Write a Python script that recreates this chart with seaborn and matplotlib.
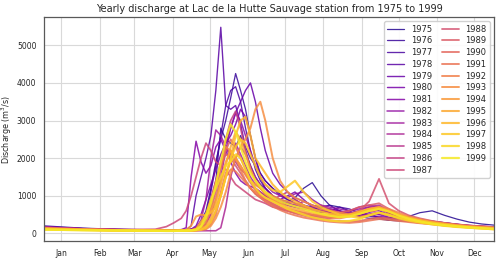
import numpy as np
import pandas as pd
import matplotlib
matplotlib.use('Agg')
import matplotlib.pyplot as plt
import seaborn as sns

days = [1, 32, 60, 91, 100, 106, 112, 116, 120, 124, 128, 132, 136, 140, 144, 148,
        152, 156, 160, 164, 168, 172, 176, 180, 186, 192, 198, 204, 211, 218, 225, 232,
        240, 248, 256, 264, 272, 280, 288, 296, 305, 315, 325, 335, 345, 355, 365]

q1975 = [200, 140, 110, 95, 90, 90, 95, 100, 110, 130, 200, 350, 700, 1400, 2800, 2500,
         2400, 2300, 2600, 2200, 1800, 1500, 1300, 1200, 1000, 900, 850, 950, 1200, 1350, 1000, 750,
         700, 600, 450, 400, 380, 350, 400, 450, 550, 600, 480, 380, 300, 250, 220]
q1976 = [170, 130, 105, 90, 85, 85, 90, 95, 110, 150, 300, 600, 1200, 1900, 2500, 3000,
         3600, 4250, 3800, 3300, 2600, 2000, 1600, 1400, 1200, 1050, 900, 800, 700, 650, 700, 750,
         600, 500, 550, 500, 420, 350, 330, 320, 330, 300, 260, 230, 200, 180, 160]
q1977 = [160, 120, 100, 85, 80, 80, 85, 90, 100, 130, 250, 500, 1100, 1800, 2600, 3400,
         3800, 3900, 3500, 2800, 2200, 1700, 1400, 1200, 1000, 850, 750, 700, 650, 600, 550, 600,
         700, 650, 550, 450, 420, 400, 380, 360, 350, 320, 280, 240, 200, 180, 160]
q1978 = [150, 115, 95, 85, 80, 80, 85, 100, 200, 1000, 1500, 2000, 2600, 3800, 5480, 3400,
         3300, 3400, 2900, 2300, 2000, 1800, 1600, 1400, 1200, 1000, 900, 800, 750, 700, 650, 600,
         550, 500, 480, 500, 520, 480, 420, 380, 340, 300, 260, 220, 190, 170, 150]
q1979 = [170, 125, 100, 85, 80, 80, 85, 90, 100, 120, 200, 400, 800, 1300, 1800, 2400,
         2800, 3200, 3500, 3800, 4000, 3500, 2800, 2200, 1600, 1300, 1100, 950, 850, 750, 700, 650,
         600, 550, 500, 480, 450, 420, 400, 380, 360, 320, 280, 240, 210, 190, 170]
q1980 = [160, 120, 100, 85, 80, 80, 85, 90, 110, 200, 500, 900, 1300, 1700, 2100, 2400,
         2600, 2900, 3300, 3100, 2600, 2000, 1500, 1200, 1000, 900, 1000, 1100, 900, 700, 600, 650,
         600, 500, 550, 650, 600, 500, 420, 380, 350, 310, 270, 230, 200, 180, 160]
q1981 = [180, 130, 105, 90, 85, 90, 100, 150, 1500, 2450, 1900, 1600, 1800, 2300, 2500, 2200,
         1900, 1600, 1400, 1300, 1250, 1200, 1100, 1000, 900, 850, 800, 900, 750, 650, 600, 550,
         500, 480, 500, 550, 500, 430, 380, 350, 320, 280, 250, 220, 200, 180, 160]
q1982 = [150, 115, 95, 85, 80, 80, 80, 85, 90, 100, 130, 250, 500, 900, 1500, 2200,
         2800, 3200, 3000, 2600, 2200, 1800, 1500, 1300, 1100, 1000, 950, 1050, 1100, 900, 750, 700,
         650, 600, 650, 700, 650, 550, 450, 400, 360, 320, 280, 240, 210, 190, 170]
q1983 = [160, 120, 100, 85, 80, 80, 85, 90, 100, 150, 350, 900, 2000, 2750, 2600, 2300,
         2000, 2400, 2100, 1800, 1500, 1300, 1200, 1100, 950, 850, 800, 750, 700, 650, 600, 600,
         550, 600, 700, 750, 700, 550, 450, 380, 330, 290, 250, 220, 190, 170, 150]
q1984 = [150, 115, 95, 85, 80, 80, 80, 75, 75, 72, 70, 70, 70, 70, 150, 700,
         1500, 2000, 2300, 2100, 1800, 1500, 1300, 1100, 950, 850, 800, 750, 850, 750, 650, 550,
         500, 550, 600, 700, 750, 600, 480, 400, 350, 300, 260, 230, 200, 180, 160]
q1985 = [160, 120, 100, 85, 80, 80, 85, 90, 100, 130, 250, 500, 900, 1400, 1900, 2300,
         2100, 1900, 1700, 1600, 1400, 1200, 1100, 1000, 900, 1000, 1100, 900, 750, 650, 600, 550,
         500, 500, 550, 600, 650, 550, 450, 380, 330, 290, 250, 220, 190, 170, 150]
q1986 = [150, 115, 95, 85, 80, 80, 80, 85, 90, 110, 200, 400, 800, 1300, 1800, 2500,
         3000, 3250, 2800, 2200, 1700, 1400, 1200, 1050, 900, 800, 750, 700, 650, 700, 750, 650,
         550, 500, 450, 500, 550, 500, 420, 360, 320, 280, 250, 220, 190, 170, 150]
q1987 = [160, 120, 100, 110, 180, 280, 400, 600, 1000, 1500, 2000, 2400, 2200, 1900, 1800, 1700,
         1500, 1300, 1200, 1100, 1000, 900, 850, 800, 700, 650, 600, 550, 500, 480, 450, 430,
         450, 500, 550, 600, 550, 480, 420, 380, 340, 300, 260, 230, 200, 180, 160]
q1988 = [150, 110, 95, 85, 80, 80, 80, 85, 90, 110, 200, 450, 900, 1400, 1800, 2100,
         2000, 1800, 1600, 1400, 1200, 1050, 950, 850, 750, 650, 600, 550, 500, 450, 420, 400,
         450, 500, 600, 850, 1450, 800, 600, 480, 400, 330, 280, 240, 210, 190, 170]
q1989 = [140, 105, 90, 80, 75, 75, 75, 75, 80, 90, 120, 250, 600, 1100, 1700, 2200,
         2500, 2300, 2000, 1700, 1400, 1200, 1000, 900, 800, 700, 650, 600, 550, 500, 480, 500,
         550, 600, 700, 750, 800, 650, 500, 420, 360, 300, 260, 220, 190, 170, 150]
q1990 = [130, 100, 85, 75, 70, 70, 70, 70, 75, 80, 100, 150, 300, 600, 1100, 1600,
         1900, 2000, 1800, 1550, 1350, 1150, 1000, 900, 780, 680, 600, 530, 470, 420, 380, 350,
         330, 320, 330, 380, 420, 400, 360, 320, 280, 250, 220, 190, 170, 150, 140]
q1991 = [120, 95, 80, 70, 68, 68, 70, 70, 75, 80, 90, 130, 250, 500, 1000, 1500,
         1700, 1650, 1500, 1350, 1200, 1050, 950, 850, 720, 620, 540, 480, 420, 380, 340, 310,
         290, 280, 300, 340, 380, 360, 330, 300, 270, 240, 210, 180, 160, 140, 130]
q1992 = [140, 105, 90, 80, 75, 75, 75, 80, 85, 100, 150, 300, 700, 1300, 1800, 2300,
         2200, 2000, 1700, 1400, 1200, 1100, 1000, 950, 850, 750, 650, 600, 550, 500, 450, 420,
         400, 450, 550, 650, 700, 650, 550, 450, 380, 320, 270, 230, 200, 180, 160]
q1993 = [130, 100, 85, 75, 70, 70, 70, 70, 75, 80, 90, 110, 200, 400, 700, 1100,
         1600, 2000, 2300, 2500, 2800, 3300, 3500, 3000, 2000, 1400, 1100, 950, 850, 750, 650, 600,
         550, 500, 520, 600, 650, 580, 480, 400, 340, 290, 250, 210, 180, 160, 140]
q1994 = [120, 95, 80, 75, 75, 75, 80, 90, 200, 450, 500, 480, 600, 900, 1400, 1900,
         2200, 2000, 1800, 1600, 1400, 1300, 1200, 1100, 1000, 900, 850, 800, 700, 600, 520, 480,
         450, 480, 550, 650, 700, 600, 480, 400, 340, 280, 240, 200, 170, 150, 130]
q1995 = [130, 100, 85, 75, 70, 70, 72, 75, 80, 90, 120, 200, 400, 800, 1300, 1800,
         2300, 2700, 2500, 2100, 1700, 1400, 1200, 1050, 900, 800, 700, 650, 600, 550, 500, 470,
         450, 470, 520, 600, 650, 580, 480, 400, 340, 290, 250, 210, 180, 160, 140]
q1996 = [110, 90, 78, 70, 68, 68, 70, 75, 85, 120, 300, 500, 550, 700, 1000, 1500,
         2000, 2600, 3000, 3100, 2600, 2000, 1800, 1600, 1300, 1100, 950, 850, 750, 650, 580, 520,
         480, 500, 580, 650, 680, 600, 500, 420, 350, 290, 240, 200, 170, 150, 130]
q1997 = [120, 95, 80, 72, 70, 70, 70, 72, 75, 80, 100, 150, 300, 600, 1000, 1500,
         2000, 2300, 2500, 2400, 2100, 1800, 1500, 1300, 1150, 1100, 1250, 1400, 1100, 850, 700, 600,
         500, 450, 420, 480, 550, 500, 420, 360, 300, 250, 210, 180, 150, 130, 110]
q1998 = [100, 85, 75, 68, 65, 65, 68, 70, 75, 90, 200, 500, 900, 1200, 1500, 1800,
         1900, 2100, 2000, 1700, 1400, 1200, 1050, 950, 850, 750, 650, 580, 500, 430, 380, 340,
         320, 330, 380, 480, 550, 480, 400, 340, 290, 240, 200, 170, 150, 130, 110]
q1999 = [100, 85, 75, 68, 65, 65, 70, 75, 80, 100, 180, 400, 800, 1300, 1900, 2500,
         2900, 2700, 2300, 1900, 1600, 1400, 1250, 1100, 950, 850, 780, 720, 650, 580, 520, 470,
         430, 450, 520, 600, 650, 580, 470, 390, 320, 260, 220, 190, 160, 140, 120]

years = list(range(1975, 2000))
series = [q1975, q1976, q1977, q1978, q1979, q1980, q1981, q1982, q1983, q1984,
          q1985, q1986, q1987, q1988, q1989, q1990, q1991, q1992, q1993, q1994,
          q1995, q1996, q1997, q1998, q1999]

month_days = [15, 46, 74, 105, 135, 166, 196, 227, 258, 288, 319, 349]
month_labels = ['Jan', 'Feb', 'Mar', 'Apr', 'May', 'Jun', 'Jul', 'Aug', 'Sep', 'Oct', 'Nov', 'Dec']

df = pd.concat([pd.DataFrame({'day': days, 'discharge': q, 'year': str(y)})
                for y, q in zip(years, series)], ignore_index=True)
order = [str(y) for y in years]

sns.set_style('whitegrid', {'axes.edgecolor': '.35', 'grid.color': '.85'})

fig, ax = plt.subplots(figsize=(5, 2.59), dpi=100)
fig.subplots_adjust(left=0.088, right=0.988, bottom=0.069, top=0.934)

# seaborn maps categorical sizes largest-first, so give the range reversed
sns.lineplot(data=df, x='day', y='discharge', hue='year', hue_order=order,
             size='year', size_order=order, sizes=(1.6, 0.9),
             palette='plasma', alpha=0.85, ax=ax)

ax.set_xlim(1, 365)
ax.set_xticks(month_days)
ax.set_xticklabels(month_labels)
ax.set_yticks([0, 1000, 2000, 3000, 4000, 5000])
ax.tick_params(labelsize=5.5, pad=2)
ax.set_xlabel('')
ax.set_ylabel('Discharge (m$^3$/s)', fontsize=5.8, labelpad=2)
ax.set_title('Yearly discharge at Lac de la Hutte Sauvage station from 1975 to 1999',
             fontsize=7, pad=4)
for s in ax.spines.values():
    s.set_linewidth(0.9)

handles, labels = ax.get_legend_handles_labels()
ax.legend(handles, labels, ncol=2, loc='upper right', fontsize=6,
          labelspacing=0.33, handlelength=2.0, columnspacing=1.2,
          borderpad=0.4, framealpha=0.9)

fig.savefig('out.png', dpi=100)
